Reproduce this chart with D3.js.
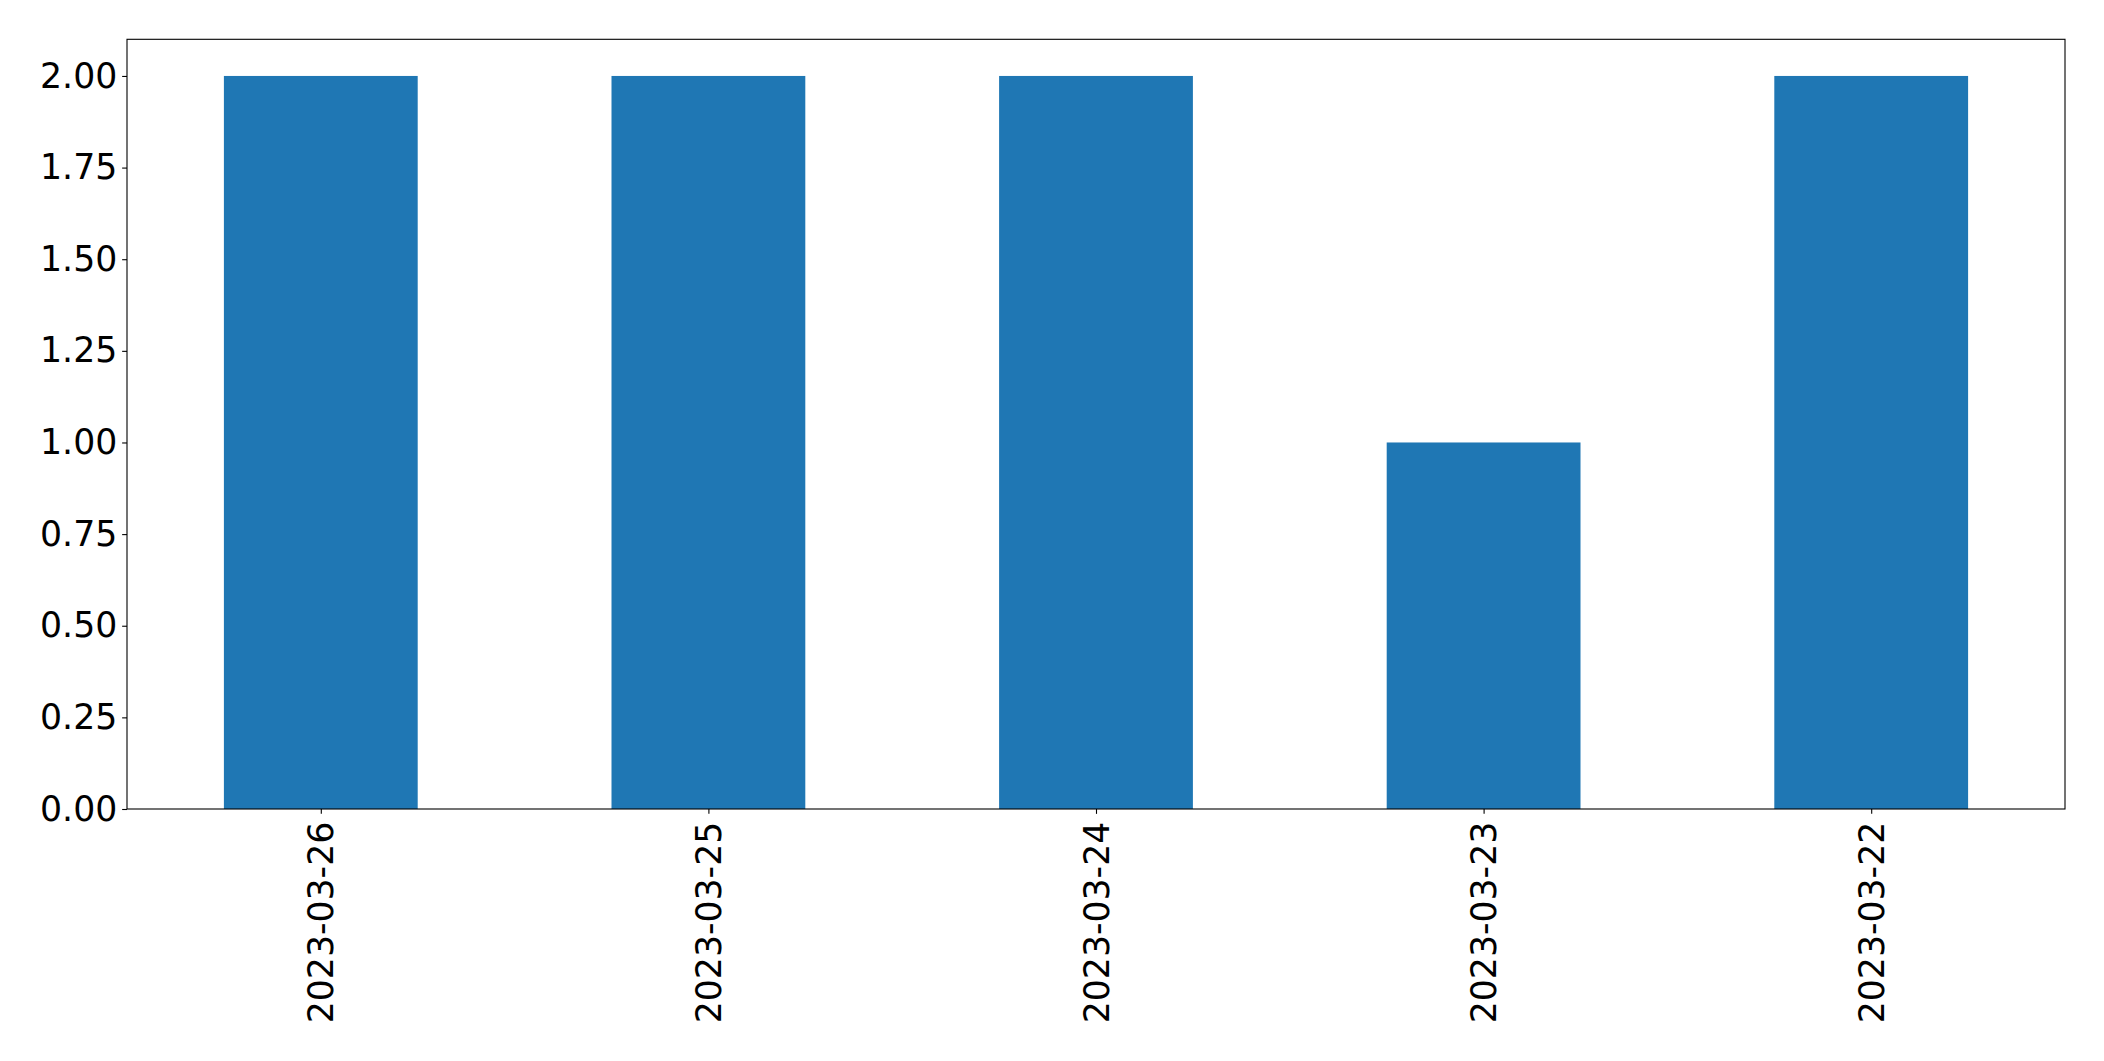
<!DOCTYPE html>
<html>
<head>
<meta charset="utf-8">
<script src="https://cdn.jsdelivr.net/npm/d3@7"></script>
<style>
html,body{margin:0;padding:0;background:#fff;}
svg{display:block;}
text{font-family:"DejaVu Sans",sans-serif;}
</style>
</head>
<body>
<script>
const categories = ["2023-03-26","2023-03-25","2023-03-24","2023-03-23","2023-03-22"];
const values = [2, 2, 2, 1, 2];
const yTicks = [0, 0.25, 0.5, 0.75, 1.0, 1.25, 1.5, 1.75, 2.0];

const W = 2104, H = 1061;
const m = {left:127, right:2104-2065, top:39.3, bottom:H-809};
const iw = W - m.left - m.right, ih = H - m.top - m.bottom;

const svg = d3.select("body").append("svg").attr("width", W).attr("height", H);
const g = svg.append("g").attr("transform", `translate(${m.left},${m.top})`);

const x = d3.scaleLinear().domain([-0.5, categories.length - 0.5]).range([0, iw]);
const y = d3.scaleLinear().domain([0, 2.1]).range([ih, 0]);
const bw = x(0.5) - x(0);

g.selectAll("rect.bar").data(values).join("rect")
  .attr("class","bar")
  .attr("x", (d,i) => x(i) - bw/2)
  .attr("width", bw)
  .attr("y", d => y(d))
  .attr("height", d => y(0) - y(d))
  .attr("fill", "#1f77b4");

const fs = 34.7, tick = 4.86, pad = 4.86;

const yAxis = g.append("g").call(d3.axisLeft(y).tickValues(yTicks).tickFormat(d3.format(".2f")).tickSize(tick).tickPadding(pad));
yAxis.select(".domain").remove();
yAxis.selectAll("text").attr("font-size", fs).attr("fill","#000").attr("font-family","DejaVu Sans");
yAxis.selectAll("line").attr("stroke","#000").attr("stroke-width",1.1);

const xAxis = g.append("g").attr("transform", `translate(0,${ih})`)
  .call(d3.axisBottom(x).tickValues(d3.range(categories.length)).tickFormat(i => categories[i]).tickSize(tick).tickPadding(pad));
xAxis.select(".domain").remove();
xAxis.selectAll("line").attr("stroke","#000").attr("stroke-width",1.1);
xAxis.selectAll("text")
  .attr("font-size", fs).attr("fill","#000").attr("font-family","DejaVu Sans")
  .attr("text-anchor","end")
  .attr("transform", `rotate(-90)`)
  .attr("x", -(tick + pad + 3))
  .attr("y", 0)
  .attr("dy", "0.35em");

g.append("rect").attr("x",0).attr("y",0).attr("width",iw).attr("height",ih)
  .attr("fill","none").attr("stroke","#000").attr("stroke-width",1.1);
</script>
</body>
</html>
